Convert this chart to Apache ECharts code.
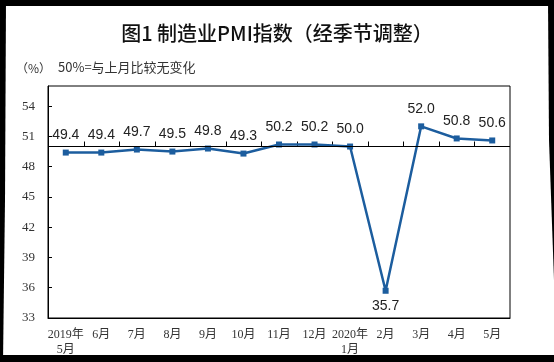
<!DOCTYPE html>
<html>
<head>
<meta charset="utf-8">
<script src="https://cdn.jsdelivr.net/npm/echarts@6/dist/echarts.min.js"></script>
<style>
html,body{margin:0;padding:0;background:#fff;}
#c{width:554px;height:362px;}
</style>
</head>
<body>
<div id="c"></div>
<script>
var categories = ['2019年\n5月','6月','7月','8月','9月','10月','11月','12月','2020年\n1月','2月','3月','4月','5月'];
var pmiValues = [49.4, 49.4, 49.7, 49.5, 49.8, 49.3, 50.2, 50.2, 50.0, 35.7, 52.0, 50.8, 50.6];
var baseline = 50;
var yMin = 33, yMax = 56, yStep = 3;

var chart = echarts.init(document.getElementById('c'));

var minV = Math.min.apply(null, pmiValues);
var seriesData = pmiValues.map(function (v) {
  return v === minV ? {value: v, label: {position: 'bottom', distance: 5}} : v;
});
var tickData = categories.slice(0, categories.length - 1).map(function (c, i) { return [i, baseline]; });

var option = {
  animation: false,
  backgroundColor: '#fff',
  title: {
    text: '图1 制造业PMI指数（经季节调整）',
    left: 'center',
    top: 18,
    textStyle: {fontFamily: 'Noto Sans CJK SC', fontSize: 20, fontWeight: 500, color: '#111'}
  },
  graphic: [
    {type: 'text', left: 16, top: 62, style: {text: '（%）', font: '12px "Noto Sans CJK SC"', fill: '#333'}},
    {type: 'text', left: 58, top: 61, style: {text: '50%=与上月比较无变化', font: '13px "Noto Sans CJK SC"', fill: '#333'}},
    {type: 'rect', shape: {x: 0, y: 0, width: 554, height: 6}, style: {fill: '#000'}, z: 100},
    {type: 'rect', shape: {x: 0, y: 355, width: 554, height: 7}, style: {fill: '#000'}, z: 100},
    {type: 'polygon', shape: {points: [[0,0],[6,0],[5,200],[3,362],[0,362]]}, style: {fill: '#000'}, z: 100},
    {type: 'polygon', shape: {points: [[548,0],[554,0],[554,280],[549,140]]}, style: {fill: '#000'}, z: 100}
  ],
  grid: {left: 48, right: 44, top: 86, bottom: 44, show: true, borderColor: '#000', borderWidth: 1},
  xAxis: {
    type: 'category', data: categories, boundaryGap: true,
    axisLine: {show: true, lineStyle: {color: '#000', width: 1}},
    axisTick: {show: false},
    axisLabel: {interval: 0, margin: 9, color: '#333', fontSize: 12, lineHeight: 15, fontFamily: 'Liberation Serif, Noto Sans CJK SC'}
  },
  yAxis: {
    type: 'value', min: yMin, max: yMax, interval: yStep,
    axisLine: {show: true, lineStyle: {color: '#000', width: 1}},
    axisTick: {show: true, inside: true, length: 4, lineStyle: {color: '#000'}},
    axisLabel: {showMaxLabel: false, margin: 13, color: '#333', fontSize: 13, fontFamily: 'Liberation Serif'},
    splitLine: {show: false}
  },
  series: [{
    type: 'custom',
    silent: true,
    z: 1,
    data: tickData,
    renderItem: function (params, api) {
      var p = api.coord([api.value(0), api.value(1)]);
      var w = api.size([1, 0])[0];
      var x = Math.round(p[0] + w / 2) + 0.5;
      return {
        type: 'line',
        shape: {x1: x, y1: p[1], x2: x, y2: p[1] - 5},
        style: {stroke: '#000', lineWidth: 1}
      };
    }
  }, {
    type: 'line',
    data: seriesData,
    z: 3,
    symbol: 'rect', symbolSize: 6,
    lineStyle: {color: '#1c5d9e', width: 2.5},
    itemStyle: {color: '#1c5d9e'},
    label: {
      show: true, position: 'top', distance: 7,
      color: '#222', fontSize: 14, fontFamily: 'Liberation Sans, Arial',
      formatter: function (p) { return p.value.toFixed(1); }
    },
    markLine: {
      silent: true, symbol: 'none', animation: false,
      label: {show: false},
      lineStyle: {color: '#000', width: 1, type: 'solid'},
      data: [{yAxis: baseline}]
    }
  }]
};
chart.setOption(option);
</script>
</body>
</html>
